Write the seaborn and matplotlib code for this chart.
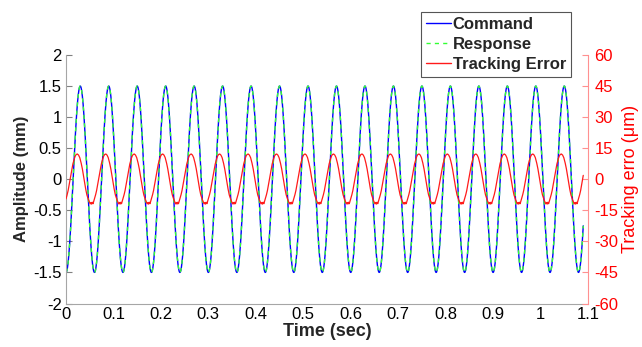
import numpy as np
import pandas as pd
import matplotlib
matplotlib.use("Agg")
import matplotlib.pyplot as plt
import seaborn as sns
from matplotlib.lines import Line2D

# ---- data ----
cmd_amplitude_mm = 1.5          # peak of command / response sine
cmd_period_s = 0.06             # one cycle every 0.06 s (peaks at 0.03, 0.09, ...)
t_end_s = 1.09                  # last sample
err_first_peak_s = 0.024        # first tracking-error peak
# one period of tracking error (µm), sampled from its peak, read from picture
err_phase = [0.00, 0.04, 0.08, 0.12, 0.17, 0.21, 0.25, 0.29, 0.33, 0.38,
             0.42, 0.45, 0.48, 0.50, 0.52, 0.55, 0.58, 0.62, 0.67, 0.71,
             0.75, 0.79, 0.83, 0.88, 0.92, 0.96, 1.00]
err_shape = [12.2, 11.7, 10.6, 8.6, 5.4, 2.0, -1.4, -4.6, -7.4, -9.6,
             -10.9, -11.9, -11.1, -12.0, -11.0, -11.8, -10.4, -8.6, -5.8, -2.7,
             0.5, 3.8, 6.8, 9.4, 11.1, 12.0, 12.2]

x_ticks = [0, 0.1, 0.2, 0.3, 0.4, 0.5, 0.6, 0.7, 0.8, 0.9, 1, 1.1]
x_tick_labels = ["0", "0.1", "0.2", "0.3", "0.4", "0.5", "0.6", "0.7", "0.8", "0.9", "1", "1.1"]
left_ticks = [-2, -1.5, -1, -0.5, 0, 0.5, 1, 1.5, 2]
left_tick_labels = ["-2", "-1.5", "-1", "-0.5", "0", "0.5", "1", "1.5", "2"]
right_ticks = [-60, -45, -30, -15, 0, 15, 30, 45, 60]

# ---- build series ----
t = np.arange(0, t_end_s + 1e-9, 0.0005)
command = -cmd_amplitude_mm * np.cos(2 * np.pi * t / cmd_period_s)
response = command.copy()
ph = ((t - err_first_peak_s) / cmd_period_s) % 1.0
err = np.interp(ph, err_phase, err_shape)
df = pd.DataFrame({"t": t, "Command": command, "Response": response, "Error": err})

sns.set_style("white")
plt.rcParams["font.family"] = ["Liberation Sans", "DejaVu Sans"]

fig = plt.figure(figsize=(6.42, 3.47), dpi=100)
ax = fig.add_axes([66 / 642, 1 - 303.5 / 347, (588 - 66) / 642, 248.5 / 347])
ax2 = ax.twinx()

sns.lineplot(data=df, x="t", y="Command", ax=ax, color="#0000ff", lw=1.0, legend=False)
sns.lineplot(data=df, x="t", y="Response", ax=ax, color="#33ff33", lw=1.0, linestyle=(0, (3, 3)),
             legend=False)
sns.lineplot(data=df, x="t", y="Error", ax=ax2, color="#ff1a1a", lw=0.9, legend=False)

ax.set_xlim(0, 1.1)
ax.set_ylim(-2, 2)
ax2.set_ylim(-60, 60)
ax.set_xticks(x_ticks)
ax.set_xticklabels(x_tick_labels)
ax.set_yticks(left_ticks)
ax.set_yticklabels(left_tick_labels)
ax2.set_yticks(right_ticks)
ax2.set_yticklabels([str(v) for v in right_ticks])

ax.set_xlabel("Time (sec)", fontsize=13, fontweight="bold", labelpad=1)
ax.set_ylabel("Amplitude (mm)", fontsize=12, fontweight="bold", labelpad=3)
ax2.set_ylabel("Tracking erro (μm)", fontsize=13, color="#ff0000", labelpad=3)

gray = "#a6a6a6"
for a in (ax, ax2):
    a.spines["top"].set_visible(False)
ax.spines["left"].set_color(gray)
ax.spines["bottom"].set_color(gray)
ax.spines["right"].set_visible(False)
ax2.spines["left"].set_visible(False)
ax2.spines["bottom"].set_visible(False)
ax2.spines["right"].set_color("#ff9090")

ax.tick_params(axis="both", direction="in", length=4, width=0.8, color="#808080",
               labelsize=12, labelcolor="black", pad=3)
ax.tick_params(axis="x", pad=2.5)
ax2.tick_params(axis="y", direction="in", length=4, width=0.8, color="#ff9090",
                labelsize=12, labelcolor="#ff0000", pad=4.5)

hs = [Line2D([], [], color="#0000ff", lw=1.0),
      Line2D([], [], color="#33ff33", lw=1.0, linestyle=(0, (3, 3))),
      Line2D([], [], color="#ff1a1a", lw=1.0)]
leg = ax2.legend(hs, ["Command", "Response", "Tracking Error"],
                 loc="upper right", bbox_to_anchor=(571 / 642, 1 - 12 / 347),
                 bbox_transform=fig.transFigure, borderaxespad=0,
                 prop={"weight": "bold", "size": 12}, frameon=True, fancybox=False,
                 edgecolor="#555555", framealpha=1, handlelength=1.5, handletextpad=0.1,
                 labelspacing=0.3, borderpad=0.3)
leg.get_frame().set_linewidth(0.8)

fig.savefig("out.png", dpi=100)
